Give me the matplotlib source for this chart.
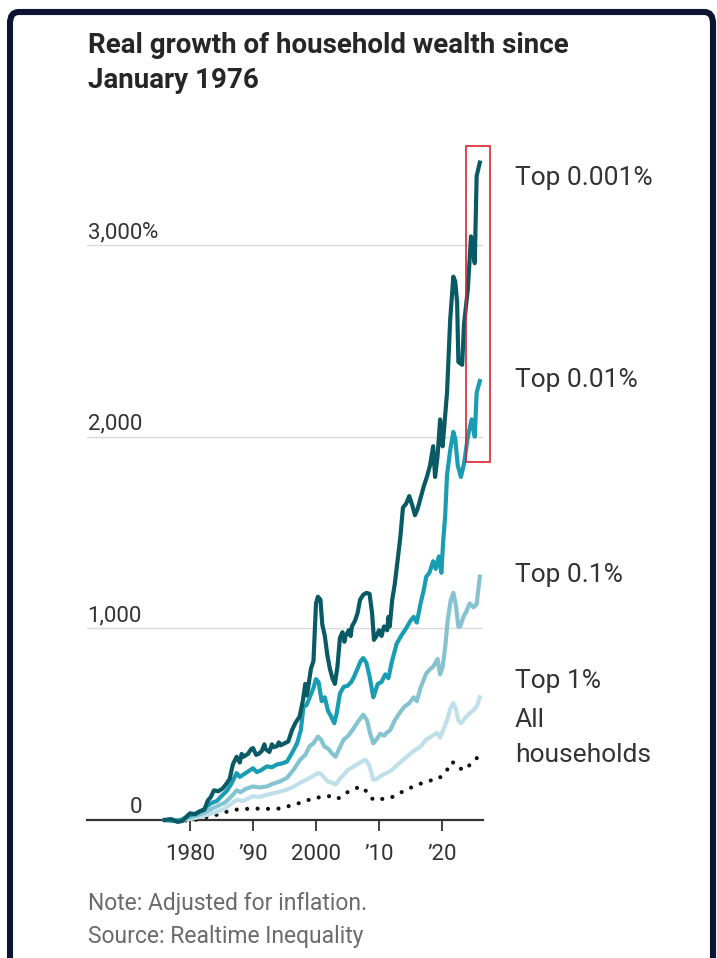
import matplotlib
matplotlib.use("Agg")
import matplotlib.pyplot as plt
from matplotlib.patches import Rectangle, FancyBboxPatch

plt.rcParams['font.family'] = ['Roboto', 'DejaVu Sans']

W, H, DPI = 717, 958, 100

# Real wealth growth since January 1976, percent
years_top0001 = [1976.0, 1977.0, 1978.0, 1978.8, 1979.5, 1980.0, 1980.8, 1981.5, 1982.3, 1982.8,
                 1983.3, 1983.8, 1984.5, 1985.2, 1985.8, 1986.3, 1986.8, 1987.4, 1987.9, 1988.2,
                 1988.5, 1989.2, 1989.7, 1990.0, 1990.5, 1990.9, 1991.4, 1991.8, 1992.0, 1992.6,
                 1993.0, 1993.2, 1993.8, 1994.1, 1994.4, 1995.0, 1995.6, 1996.2, 1996.8, 1997.4,
                 1997.9, 1998.3, 1998.5, 1998.7, 1999.2, 1999.6, 2000.0, 2000.3, 2000.7, 2001.0,
                 2001.4, 2001.8, 2002.2, 2002.6, 2003.0, 2003.4, 2003.8, 2004.2, 2004.5, 2004.7,
                 2005.2, 2005.5, 2005.7, 2006.2, 2006.6, 2007.0, 2007.5, 2008.0, 2008.5, 2008.9,
                 2009.2, 2009.6, 2010.0, 2010.4, 2010.8, 2011.3, 2011.5, 2011.7, 2012.1, 2012.5,
                 2012.9, 2013.4, 2013.8, 2014.3, 2014.8, 2015.3, 2015.7, 2016.1, 2016.6, 2017.1,
                 2017.6, 2018.1, 2018.6, 2018.9, 2019.3, 2019.7, 2020.1, 2020.3, 2020.8, 2021.3,
                 2021.8, 2022.1, 2022.4, 2022.6, 2023.2, 2023.5, 2024.1, 2024.6, 2025.0, 2025.2,
                 2025.5, 2026.0]
top0001 = [0, 5, -10, -5, 20, 35, 30, 45, 55, 100,
           120, 155, 150, 165, 190, 215, 290, 330, 300, 345,
           330, 345, 370, 375, 340, 345, 360, 395, 370, 355,
           395, 380, 385, 405, 390, 400, 410, 470, 510, 540,
           620, 710, 650, 680, 790, 830, 1130, 1165, 1150, 1020,
           960, 860, 790, 740, 710, 800, 950, 980, 930, 960,
           990, 960, 1010, 1040, 1080, 1150, 1175, 1185, 1180, 1080,
           940, 960, 990, 960, 1010, 990, 1060, 1010, 1150, 1230,
           1340, 1480, 1630, 1650, 1690, 1640, 1590, 1620, 1680, 1740,
           1790, 1850, 1950, 1790, 1900, 2090, 1950, 2030, 2230, 2610,
           2835, 2810, 2700, 2390, 2375, 2590, 2770, 3045, 2950, 2905,
           3360, 3430]

years_top001 = [1976.0, 1977.5, 1978.5, 1979.5, 1980.0, 1981.0, 1982.0, 1982.8, 1983.5, 1984.3,
                1985.0, 1985.8, 1986.5, 1987.4, 1987.9, 1988.6, 1989.3, 1990.0, 1990.6, 1991.3,
                1992.2, 1993.0, 1993.8, 1994.6, 1995.4, 1996.2, 1997.0, 1997.6, 1998.0, 1998.5,
                1999.0, 1999.6, 2000.0, 2000.4, 2000.9, 2001.4, 2001.9, 2002.4, 2002.9, 2003.3,
                2003.8, 2004.4, 2005.0, 2005.6, 2006.0, 2006.6, 2007.1, 2007.5, 2008.0, 2008.5,
                2009.1, 2009.5, 2009.8, 2010.4, 2011.0, 2011.5, 2012.0, 2012.8, 2013.5, 2014.4,
                2015.0, 2015.5, 2016.0, 2016.6, 2017.1, 2017.5, 2018.0, 2018.6, 2019.0, 2019.5,
                2019.9, 2020.2, 2020.5, 2020.8, 2021.3, 2021.8, 2022.1, 2022.5, 2023.0, 2023.5,
                2024.1, 2024.7, 2025.2, 2025.5, 2026.0]
top001 = [0, -5, 0, 15, 25, 35, 50, 75, 90, 100,
          125, 150, 185, 245, 225, 240, 255, 270, 250, 260,
          280, 275, 290, 295, 305, 350, 400, 470, 590, 600,
          640, 690, 735, 720, 620, 640, 570, 540, 505, 560,
          660, 695, 700, 720, 745, 790, 830, 845, 820, 750,
          640, 680, 710, 720, 760, 740, 820, 920, 960, 1005,
          1040, 1060, 1030, 1130, 1200, 1270, 1290, 1350, 1310, 1375,
          1290, 1460, 1585, 1800, 1930, 2025, 1990, 1850, 1790, 1860,
          2000, 2090, 2000, 2230, 2290]

years_top01 = [1976.0, 1978.0, 1979.0, 1980.0, 1981.0, 1982.0, 1983.5, 1984.5, 1985.5, 1986.5,
               1987.4, 1988.0, 1989.0, 1990.0, 1991.0, 1992.2, 1993.2, 1994.2, 1995.4, 1996.5,
               1997.5, 1998.3, 1999.0, 1999.6, 2000.3, 2000.8, 2001.3, 2002.0, 2002.6, 2003.1,
               2003.8, 2004.4, 2005.0, 2005.8, 2006.6, 2007.5, 2008.1, 2008.6, 2009.1, 2009.6,
               2010.2, 2010.8, 2011.2, 2011.8, 2012.5, 2013.3, 2014.0, 2014.8, 2015.5, 2016.0,
               2016.6, 2017.5, 2018.2, 2018.6, 2019.3, 2019.7, 2020.1, 2020.5, 2020.9, 2021.4,
               2021.8, 2022.2, 2022.6, 2022.9, 2023.4, 2023.9, 2024.4, 2025.0, 2025.5, 2026.0]
top01 = [0, -3, 5, 15, 25, 35, 60, 75, 90, 120,
         155, 145, 165, 175, 170, 175, 190, 200, 220, 265,
         315, 340, 385, 400, 435, 420, 385, 370, 345, 330,
         380, 420, 435, 470, 510, 550, 520, 450, 400, 420,
         450, 440, 455, 470, 520, 560, 590, 610, 640, 620,
         690, 765, 790, 800, 840, 760, 800, 900, 1040, 1150,
         1185, 1120, 1010, 1010, 1060, 1090, 1130, 1110, 1125, 1270]

years_top1 = [1976.0, 1978.0, 1980.0, 1982.0, 1984.0, 1985.5, 1987.4, 1988.5, 1990.0, 1991.0,
              1992.0, 1993.3, 1994.5, 1995.5, 1996.5, 1997.5, 1998.5, 1999.3, 2000.3, 2000.8,
              2001.9, 2002.5, 2003.1, 2003.8, 2004.5, 2005.0, 2006.0, 2007.0, 2007.8, 2008.4,
              2009.1, 2009.7, 2010.5, 2011.2, 2012.0, 2013.0, 2014.4, 2015.5, 2016.5, 2017.5,
              2018.5, 2019.2, 2019.7, 2020.2, 2020.8, 2021.3, 2021.8, 2022.2, 2022.6, 2023.0,
              2023.6, 2024.5, 2025.2, 2025.6, 2026.0]
top1 = [0, -2, 5, 20, 40, 60, 105, 100, 125, 120,
        130, 140, 150, 160, 175, 195, 210, 225, 245, 240,
        200, 195, 185, 215, 240, 260, 280, 300, 315, 290,
        210, 215, 235, 245, 260, 290, 330, 360, 380, 420,
        440, 455, 430, 470, 520, 580, 610, 580, 520, 505,
        530, 560, 580, 600, 640]

years_all = [1976.0, 1978.0, 1980.0, 1981.0, 1982.0, 1983.0, 1984.0, 1985.0, 1986.0, 1987.5,
             1990.0, 1992.0, 1994.3, 1996.5, 1998.0, 1999.7, 2001.0, 2002.0, 2003.4, 2005.0,
             2006.0, 2007.0, 2008.0, 2009.1, 2010.0, 2011.8, 2013.0, 2014.4, 2015.5, 2017.0,
             2018.6, 2019.5, 2020.3, 2020.8, 2021.3, 2022.0, 2022.4, 2023.2, 2024.0, 2024.5,
             2025.3, 2026.0]
all_households = [0, -3, -2, 2, 10, 18, 25, 35, 45, 55,
                  60, 58, 60, 80, 95, 115, 120, 125, 110, 145,
                  160, 175, 150, 105, 108, 115, 135, 160, 175, 195,
                  210, 215, 245, 260, 300, 300, 290, 260, 275, 290,
                  315, 340]

series_labels = ['Top 0.001%', 'Top 0.01%', 'Top 0.1%', 'Top 1%', 'All\nhouseholds']
x_ticks = [1980, 1990, 2000, 2010, 2020]
x_tick_labels = ['1980', '\u201990', '2000', '\u201910', '\u201920']
y_ticks = [0, 1000, 2000, 3000]
y_tick_labels = ['0', '1,000', '2,000', '3,000']

# highlighted recent stretch (years, percent)
box_years = (2023.8, 2027.6)
box_values = (1870, 3515)

C_TOP0001 = '#0a5a66'
C_TOP001 = '#189db3'
C_TOP01 = '#85c3d1'
C_TOP1 = '#bfe0e8'
C_TEXT = '#333333'

fig = plt.figure(figsize=(W / DPI, H / DPI), dpi=DPI)
fig.patch.set_facecolor('white')


def fx(px):
    return px / W


def fy(py):
    return 1 - py / H


# dark frame around the graphic
frame = FancyBboxPatch((fx(10), fy(1020)), fx(713) - fx(10), fy(12) - fy(1020),
                       boxstyle='round,pad=0,rounding_size=0.012',
                       transform=fig.transFigure, fill=False,
                       ec='#0c1431', lw=4.4, zorder=0)
fig.patches.append(frame)

ax = fig.add_axes([fx(87), fy(829.6), (483 - 87) / W, (829.6 - 139.6) / H])
ax.set_xlim(1963.651, 2026.508)
ax.set_ylim(-50, 3550)
ax.set_facecolor('none')

for s in ['top', 'right', 'left']:
    ax.spines[s].set_visible(False)
ax.spines['bottom'].set_position(('data', 0))
ax.spines['bottom'].set_color(C_TEXT)
ax.spines['bottom'].set_linewidth(1.6)
ax.spines['bottom'].set_zorder(1)

ax.set_yticks(y_ticks[1:])
ax.yaxis.grid(True, color='#dadada', lw=1.0)
ax.set_axisbelow(True)
ax.tick_params(axis='y', length=0, labelleft=False)

ax.set_xticks(x_ticks, x_tick_labels)
ax.tick_params(axis='x', direction='out', length=8.0, width=1.3, color=C_TEXT,
               pad=9.0, labelsize=16, labelcolor=C_TEXT)

# y labels sit above their gridlines, right aligned, % hanging
for v, lab in zip(y_ticks, y_tick_labels):
    ax.text(1972.38, v + 36, lab, ha='right', va='baseline', fontsize=16, color=C_TEXT)
ax.text(1972.38, y_ticks[-1] + 36, '%', ha='left', va='baseline', fontsize=16, color=C_TEXT)

lw = 3.0
ax.plot(years_all, all_households, color='#111111', lw=3.0,
        linestyle=(0, (0.01, 2.5)), dash_capstyle='round', zorder=2)
ax.plot(years_top1, top1, color=C_TOP1, lw=lw, solid_joinstyle='round', zorder=3)
ax.plot(years_top01, top01, color=C_TOP01, lw=lw, solid_joinstyle='round', zorder=4)
ax.plot(years_top001, top001, color=C_TOP001, lw=lw, solid_joinstyle='round', zorder=5)
ax.plot(years_top0001, top0001, color=C_TOP0001, lw=lw, solid_joinstyle='round', zorder=6)

ax.add_patch(Rectangle((box_years[0], box_values[0]), box_years[1] - box_years[0],
                       box_values[1] - box_values[0], fill=False, ec='#d8262d',
                       lw=1.2, clip_on=False, zorder=10))

# series labels at the right
label_baselines = [185, 387, 582, 688, 727]
for lab, yb in zip(series_labels, label_baselines):
    fig.text(fx(515), fy(yb), lab.split('\n')[0], fontsize=19, color=C_TEXT, va='baseline')
fig.text(fx(515), fy(762), series_labels[-1].split('\n')[1], fontsize=19, color=C_TEXT,
         va='baseline')

# title
fig.text(fx(88), fy(53), 'Real growth of household wealth since', fontsize=20,
         fontweight='bold', color='#262626', va='baseline')
fig.text(fx(88), fy(88), 'January 1976', fontsize=20,
         fontweight='bold', color='#262626', va='baseline')

# footnotes
fig.text(fx(88), fy(910), 'Note: Adjusted for inflation.', fontsize=16.5, color='#6b6b6b',
         va='baseline')
fig.text(fx(88), fy(943), 'Source: Realtime Inequality', fontsize=16.5, color='#6b6b6b',
         va='baseline')

fig.savefig('out.png', dpi=DPI, facecolor='white')
